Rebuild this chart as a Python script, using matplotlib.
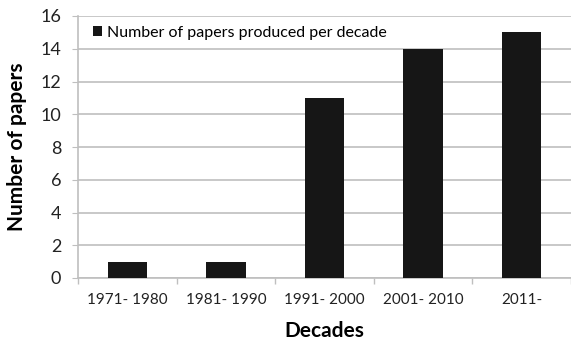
import matplotlib.pyplot as plt

decades = ["1971- 1980", "1981- 1990", "1991- 2000", "2001- 2010", "2011-"]
papers = [1, 1, 11, 14, 15]
y_ticks = [0, 2, 4, 6, 8, 10, 12, 14, 16]

plt.rcParams['font.family'] = ['Lato', 'DejaVu Sans']

fig = plt.figure(figsize=(5.71, 3.41), dpi=100)
ax = fig.add_axes([78 / 571, (341 - 278) / 341, 493 / 571, 262 / 341])

x = range(len(decades))
ax.bar(x, papers, width=0.4, color='#161616', zorder=3,
       label="Number of papers produced per decade")

ax.set_xlim(-0.5, 4.48)
ax.set_ylim(0, 16)
ax.set_yticks(y_ticks)
# gray ticks sit between categories, labels centred under the bars
ax.set_xticks([i - 0.5 for i in range(6)], minor=False)
ax.set_xticklabels([])
ax.set_xticks(list(x), minor=True)
ax.set_xticklabels(decades, minor=True, fontsize=11, color='#222222')
ax.tick_params(axis='x', which='minor', length=0, pad=11)
ax.tick_params(axis='x', which='major', length=4, color='#bfbfbf', width=1)
ax.tick_params(axis='y', length=4, color='#bfbfbf', labelsize=13,
               labelcolor='#222222', pad=8)

ax.grid(axis='y', color='#bfbfbf', linewidth=1.2, zorder=0)
for side in ['top', 'right']:
    ax.spines[side].set_visible(False)
ax.spines['left'].set_color('#bfbfbf')
ax.spines['bottom'].set_color('#bfbfbf')
ax.spines['left'].set_linewidth(1.2)
ax.spines['bottom'].set_linewidth(1.2)

ax.set_ylabel("Number of papers", fontsize=15, fontweight='bold', labelpad=10)
ax.set_xlabel("Decades", fontsize=15, fontweight='bold', labelpad=10)

ax.legend(loc='upper left', frameon=False, fontsize=11.5, handlelength=0.6,
          handleheight=0.6, handletextpad=0.3, borderaxespad=0.2,
          bbox_to_anchor=(0.01, 1.0))

fig.savefig("out.png", dpi=100)
